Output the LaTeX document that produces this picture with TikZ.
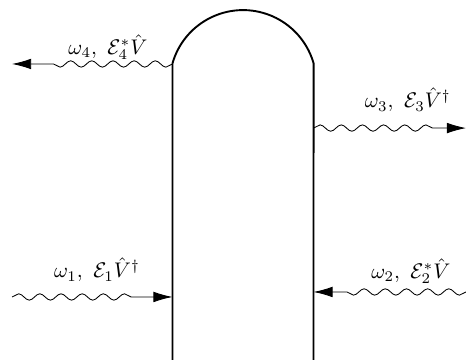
\documentclass[tikz,border=0pt]{standalone}
\usetikzlibrary{decorations.pathmorphing,arrows.meta}

\tikzset{
    wall/.style={line width=0.9pt},
    photon/.style={thin, -{Latex[length=9pt,width=5pt]},
        decorate, decoration={snake, amplitude=1.5pt, segment length=10pt, post length=15pt}}
}

\begin{document}
\begin{tikzpicture}
    \useasboundingbox (0,0) rectangle (7.736,5.976);

    % 定义腔体的关键点
    \coordinate (LB) at (2.864,0);
    \coordinate (LT) at (2.864,4.926);
    \coordinate (RT) at (5.204,4.926);
    \coordinate (RB) at (5.204,0);

    % 腔体：两侧竖壁加顶部圆弧
    \draw[wall] (LB) -- (LT) arc [start angle=164, end angle=16, radius=1.218] -- (RB);

    % 波的端点
    \coordinate (A4) at (2.864,4.914);
    \coordinate (B4) at (0.2,4.914);
    \coordinate (A3) at (5.204,3.85);
    \coordinate (B3) at (7.736,3.85);
    \coordinate (A1) at (0.2,1.046);
    \coordinate (B1) at (2.864,1.046);
    \coordinate (A2) at (7.736,1.129);
    \coordinate (B2) at (5.204,1.129);

    % 入射与出射的波
    \draw[photon] (A4) -- (B4);
    \draw[photon] (A3) -- (B3);
    \draw[photon] (A1) -- (B1);
    \draw[photon] (A2) -- (B2);

    % 标注
    \node (w4) at (1.79,5.196) {$\omega_4,\ \mathcal{E}_4^*\hat{V}$};
    \node (w3) at (6.77,4.316) {$\omega_3,\ \mathcal{E}_3\hat{V}^\dagger$};
    \node (w1) at (1.61,1.494) {$\omega_1,\ \mathcal{E}_1\hat{V}^\dagger$};
    \node (w2) at (6.82,1.477) {$\omega_2,\ \mathcal{E}_2^*\hat{V}$};
\end{tikzpicture}
\end{document}
